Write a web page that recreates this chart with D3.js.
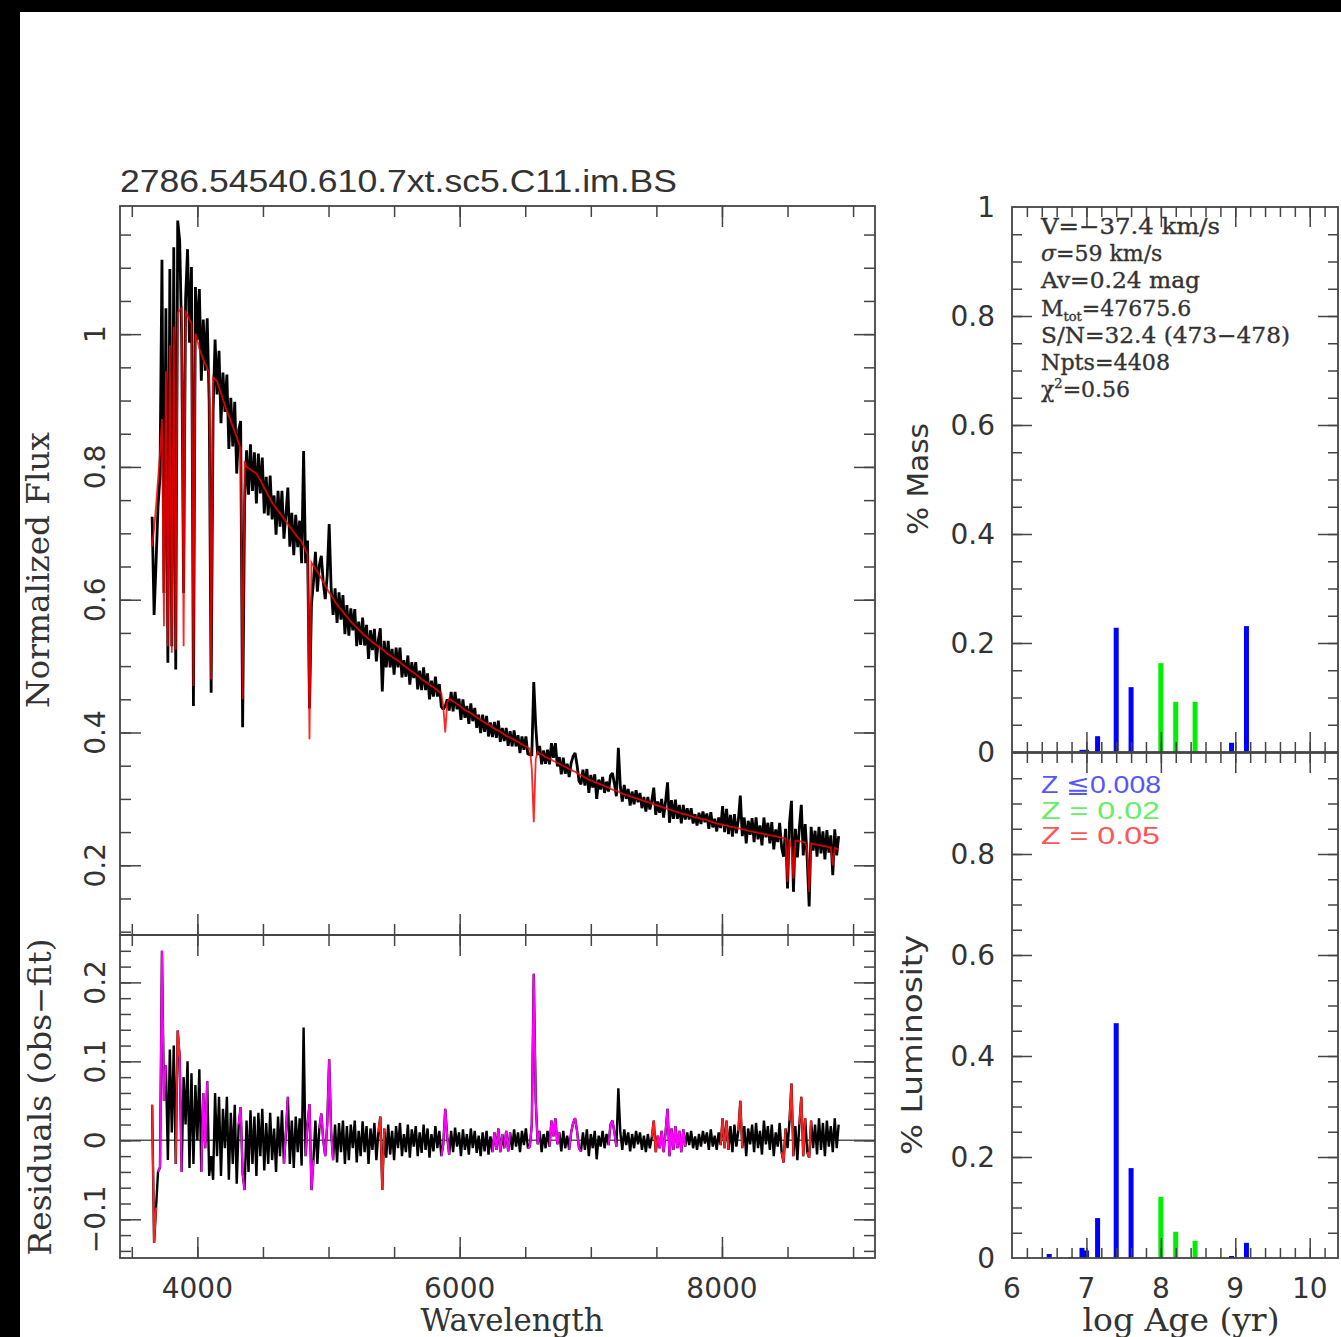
<!DOCTYPE html>
<html>
<head>
<meta charset="utf-8">
<script src="https://cdn.jsdelivr.net/npm/d3@7"></script>
<style>
  body { margin: 0; background: #fff; }
  svg { display: block; }
</style>
</head>
<body>
<div id="chart"></div>
<script>
// Spectrum is sampled on a regular grid: wavelength = waveStart + i * waveStep
const waveStart = 3655
const waveStep = 15
// Model fit (red), flux x 1000
const fitFlux = [
  680, 707, 741, 781, 820, 872, 560, 944, 530, 983,
  520, 1011, 525, 1032, 1036, 1039, 530, 1033, 1028, 1022,
  1016, 470, 1001, 991, 978, 970, 962, 955, 949, 942,
  480, 935, 932, 929, 920, 911, 902, 893, 884, 877,
  869, 861, 853, 845, 836, 827, 450, 809, 800, 798,
  796, 794, 792, 790, 785, 780, 774, 768, 763, 757,
  752, 746, 742, 738, 734, 730, 726, 722, 718, 714,
  710, 706, 702, 698, 694, 691, 687, 681, 675, 669,
  390, 656, 651, 647, 642, 637, 632, 626, 621, 616,
  611, 607, 602, 597, 593, 589, 585, 582, 578, 574,
  571, 567, 564, 561, 558, 555, 552, 549, 546, 544,
  541, 539, 536, 534, 532, 529, 527, 525, 523, 520,
  518, 516, 514, 512, 510, 508, 506, 503, 501, 499,
  496, 494, 492, 490, 488, 485, 483, 480, 478, 476,
  474, 472, 470, 468, 466, 464, 461, 459, 440, 400,
  445, 451, 449, 447, 445, 443, 441, 439, 436, 434,
  432, 431, 429, 427, 425, 423, 421, 419, 417, 415,
  413, 412, 410, 408, 406, 404, 403, 401, 399, 397,
  395, 394, 392, 391, 389, 387, 386, 384, 382, 380,
  379, 377, 376, 345, 265, 360, 371, 368, 367, 365,
  363, 362, 360, 359, 357, 356, 354, 353, 351, 350,
  348, 347, 345, 344, 342, 341, 339, 337, 336, 334,
  332, 331, 329, 328, 327, 325, 324, 323, 322, 321,
  319, 318, 317, 315, 314, 313, 312, 311, 309, 308,
  307, 306, 305, 304, 303, 302, 301, 300, 299, 298,
  297, 296, 295, 294, 293, 292, 291, 290, 289, 288,
  287, 286, 285, 284, 283, 282, 281, 280, 279, 278,
  277, 277, 276, 275, 274, 273, 272, 272, 271, 270,
  269, 269, 268, 267, 266, 265, 264, 263, 262, 262,
  261, 260, 260, 259, 258, 258, 257, 256, 256, 255,
  254, 254, 253, 252, 251, 251, 250, 250, 249, 248,
  248, 247, 247, 246, 245, 245, 244, 244, 243, 242,
  242, 241, 240, 175, 239, 225, 180, 237, 237, 236,
  236, 235, 234, 225, 160, 233, 232, 232, 231, 230,
  230, 229, 229, 228, 227, 227, 200, 226, 225, 224
]
// Residuals obs - fit, x 1000 (observed flux = fit + residual)
const residual = [
  45, -130, -85, -40, -34, 240, 50, 95, -25, 115,
  10, 120, -30, 139, 105, -40, 80, 20, 100, -35,
  85, -30, 70, 0, 90, -40, 60, -10, 75, -45,
  -20, -50, 60, -20, 55, -45, 40, -10, 55, -50,
  35, -30, 45, -55, 20, 42, -42, -63, 25, -40,
  38, -30, 30, -45, 35, -20, 40, -38, 22, -30,
  35, -25, 15, -40, 30, -20, 38, -30, 10, 55,
  -30, 25, -35, 30, -15, 28, -32, 143, -20, 20,
  46, -63, -25, 25, -30, 15, 34, 0, -20, 20,
  103, 10, -25, 20, -28, 22, -15, 25, -30, 18,
  -25, 20, -10, 25, -28, 12, -20, 24, -15, 18,
  -30, 15, -12, 22, -25, 10, 30, -63, 15, -22,
  20, -18, 12, -25, 18, -10, 22, -20, 8, -15,
  20, -22, 14, -8, 18, -20, 10, -16, 20, -12,
  15, -22, 8, -14, 18, -10, 12, -20, -5, 40,
  5, -18, 12, -15, 16, -8, 10, -20, 14, -12,
  8, -18, 15, -10, 12, -16, 6, -20, 10, -14,
  12, -18, 5, -15, 10, -12, 15, -15, 8, -10,
  12, -14, 10, -12, 14, -8, 10, -15, 12, -6,
  15, -10, -8, 20, 211, 50, -5, 12, -15, 8,
  -10, 12, -8, 25, 5, 28, -5, 10, -14, 12,
  -10, 6, -12, 10, 22, 28, 12, -10, -14, 10,
  -12, 14, -20, 8, -10, 12, -24, 6, -8, 12,
  -10, 8, -6, 20, 25, 10, -8, 66, 10, -12,
  14, -6, 10, -14, 8, -10, 12, -5, 10, -12,
  6, -15, 8, -10, 4, 25, -15, 6, -10, 12,
  -15, 10, 40, -20, 15, -12, 18, -10, 12, -15,
  14, -8, 10, -6, 12, -10, 5, -12, 8, -8,
  12, -4, 10, -12, 14, -8, 6, -12, 10, -6,
  28, -10, 25, -12, 18, -15, 20, -8, 12, 50,
  -10, 18, -20, 15, -5, 20, -15, 22, -10, 12,
  -18, 25, -5, 18, -12, 20, -20, 10, -8, 22,
  -15, -28, 15, -10, 25, 72, -20, 18, -25, 20,
  55, -20, 28, -15, -22, 25, -10, 20, -18, 28,
  -12, 22, -20, 25, -8, 18, -15, 28, -10, 20
]
// Masked wavelength windows (magenta) and clipped pixels (red) in the residuals
const maskedWindows = [
  [3710, 3750], [3860, 3870], [4040, 4065], [4325, 4350], [4670, 4680],
  [4835, 4875], [4940, 4965], [4985, 5025], [5870, 5910], [6260, 6315],
  [6350, 6375], [6530, 6600], [6695, 6750], [6845, 6915], [7145, 7185],
  [7520, 7710]
]
const clippedWaves = [3655, 3670, 3850, 5395, 5410, 7480, 7495, 8005, 8035, 8140,
  8470, 8530, 8605, 8620, 8665]

// Population vectors: log age, fraction, metallicity class
const massAge = [6.94, 7.0, 7.15, 7.4, 7.6, 8.0, 8.2, 8.46, 8.95, 9.15]
const massFrac = [0.004, 0.004, 0.029, 0.228, 0.119, 0.163, 0.092, 0.092, 0.017, 0.231]
const massZ = ['low', 'low', 'low', 'low', 'low', 'solar', 'solar', 'solar', 'low', 'low']
const lumAge = [6.5, 6.8, 6.94, 7.0, 7.15, 7.4, 7.6, 8.0, 8.2, 8.46, 8.95, 9.15]
const lumFrac = [0.008, 0.002, 0.02, 0.015, 0.079, 0.465, 0.178, 0.121, 0.052, 0.034, 0.004, 0.03]
const lumZ = ['low', 'low', 'low', 'low', 'low', 'low', 'low', 'solar', 'solar', 'solar', 'low', 'low']

const zColors = { low: '#0000ff', solar: '#00ee00', high: '#ff0000' }
const legendItems = [
  { label: 'Z \u22660.008', color: '#5555ff', len: 120 },
  { label: 'Z = 0.02', color: '#66ee66', len: 119 },
  { label: 'Z = 0.05', color: '#ff5555', len: 119 }
]
const fitInfo = ['V=\u221237.4 km/s', 'sigma', 'Av=0.24 mag', 'mtot', 'S/N=32.4 (473\u2212478)', 'Npts=4408', 'chi2']

const title = '2786.54540.610.7xt.sc5.C11.im.BS'

// ---------------------------------------------------------------------------
const width = 1341
const height = 1337
const svg = d3.select('#chart').append('svg')
  .attr('width', width)
  .attr('height', height)
svg.append('rect').attr('width', width).attr('height', height).attr('fill', '#fff')
// black border of the scanned page
svg.append('rect').attr('width', width).attr('height', 12).attr('fill', '#000')
svg.append('rect').attr('width', 20).attr('height', height).attr('fill', '#000')

// Scales
const xWave = d3.scaleLinear().domain([3410, 9167]).range([120, 875])
const yFlux = d3.scaleLinear().domain([0.095, 1.193]).range([935, 206])
const yRes = d3.scaleLinear().domain([-0.149, 0.26]).range([1258, 935])
const xAge = d3.scaleLinear().domain([6, 10.38]).range([1012, 1338])
const yMass = d3.scaleLinear().domain([0, 1]).range([752, 207])
const yLum = d3.scaleLinear().domain([0, 1]).range([1258, 753])

const ink = '#444'
const labelFont = 'DejaVu Sans, sans-serif'
const serifFont = 'DejaVu Serif, serif'

/**
 * Draws a boxed panel with inward minor/major ticks on all four sides.
 */
function frame (x, y, ticks, minorLen, majorLen) {
  const [x0, x1] = x.range()
  const [y0, y1] = y.range()
  const g = svg.append('g').attr('color', ink)
  const add = (axis, tf, values, len) => {
    g.append('g').attr('transform', tf)
      .call(axis.tickValues(values).tickSize(-len).tickSizeOuter(0).tickFormat(''))
      .call(a => a.select('.domain').remove())
      .selectAll('line').attr('stroke-width', 1.5)
  }
  add(d3.axisBottom(x), `translate(0,${y0})`, ticks.xMinor, minorLen)
  add(d3.axisBottom(x), `translate(0,${y0})`, ticks.xMajor, majorLen)
  add(d3.axisTop(x), `translate(0,${y1})`, ticks.xMinor, minorLen)
  add(d3.axisTop(x), `translate(0,${y1})`, ticks.xMajor, majorLen)
  add(d3.axisLeft(y), `translate(${x0},0)`, ticks.yMinor, minorLen)
  add(d3.axisLeft(y), `translate(${x0},0)`, ticks.yMajor, majorLen)
  add(d3.axisRight(y), `translate(${x1},0)`, ticks.yMinor, minorLen)
  add(d3.axisRight(y), `translate(${x1},0)`, ticks.yMajor, majorLen)
  g.append('rect')
    .attr('x', x0).attr('y', y1)
    .attr('width', x1 - x0).attr('height', y0 - y1)
    .attr('fill', 'none').attr('stroke', ink).attr('stroke-width', 1.8)
  return g
}

function clip (id, x, y) {
  const [x0, x1] = x.range()
  const [y0, y1] = y.range()
  svg.append('clipPath').attr('id', id).append('rect')
    .attr('x', x0).attr('y', y1).attr('width', x1 - x0).attr('height', y0 - y1)
  return `url(#${id})`
}

const waves = fitFlux.map((d, i) => waveStart + i * waveStep)
const obsFlux = fitFlux.map((d, i) => (d + residual[i]) / 1000)
const fit = fitFlux.map(d => d / 1000)
const res = residual.map(d => d / 1000)

// ---------------- Spectrum panel ----------------
const specClip = clip('spec-clip', xWave, yFlux)
const specLine = d3.line().x((d, i) => xWave(waves[i])).y(d => yFlux(d))
const specG = svg.append('g').attr('clip-path', specClip)
specG.append('path').datum(obsFlux)
  .attr('d', specLine)
  .attr('fill', 'none').attr('stroke', '#000').attr('stroke-width', 2.8)
  .attr('stroke-linejoin', 'bevel')
specG.append('path').datum(fit)
  .attr('d', specLine)
  .attr('fill', 'none').attr('stroke', '#ff0000').attr('stroke-width', 1.8).attr('stroke-opacity', 0.85)

const waveMinor = d3.range(3500, 9001, 500)
const waveMajor = [4000, 6000, 8000]
frame(xWave, yFlux, {
  xMinor: waveMinor,
  xMajor: waveMajor,
  yMinor: d3.range(0.1, 1.19, 0.05),
  yMajor: [0.2, 0.4, 0.6, 0.8, 1.0]
}, 11, 21)

// ---------------- Residual panel ----------------
const resClip = clip('res-clip', xWave, yRes)
const resLine = d3.line().x(d => xWave(waves[d])).y(d => yRes(res[d]))
const resG = svg.append('g').attr('clip-path', resClip)
resG.append('line')
  .attr('x1', 120).attr('x2', 875)
  .attr('y1', yRes(0)).attr('y2', yRes(0))
  .attr('stroke', '#555').attr('stroke-width', 1.5)
resG.append('path').datum(d3.range(res.length))
  .attr('d', resLine)
  .attr('fill', 'none').attr('stroke', '#000').attr('stroke-width', 2.4)
  .attr('stroke-linejoin', 'bevel')

// flagged runs: masked (magenta) and clipped (red)
function runs (flagged) {
  const out = []
  let cur = null
  flagged.forEach((f, i) => {
    if (f) {
      if (!cur) { cur = [i, i]; out.push(cur) } else cur[1] = i
    } else cur = null
  })
  return out
}
const isMasked = waves.map(w => maskedWindows.some(([a, b]) => w >= a && w <= b))
const isClipped = waves.map(w => clippedWaves.includes(w))
const drawRuns = (flags, color) => {
  runs(flags).forEach(([a, b]) => {
    const idx = d3.range(Math.max(0, a - 1), Math.min(res.length - 1, b + 1) + 1)
    resG.append('path').datum(idx)
      .attr('d', resLine)
      .attr('fill', 'none').attr('stroke', color).attr('stroke-width', 2)
      .attr('stroke-linejoin', 'bevel')
  })
}
drawRuns(isMasked, '#ff00ff')
drawRuns(isClipped, '#ff2020')

frame(xWave, yRes, {
  xMinor: waveMinor,
  xMajor: waveMajor,
  yMinor: d3.range(-0.14, 0.25, 0.02),
  yMajor: [-0.1, 0, 0.1, 0.2]
}, 11, 21)

// left-panel tick labels (rotated)
const rotLabel = (x, y, text, size, font) => svg.append('text')
  .attr('transform', `translate(${x},${y}) rotate(-90)`)
  .attr('text-anchor', 'middle')
  .attr('dominant-baseline', 'central')
  .attr('font-family', font)
  .attr('font-size', size)
  .attr('fill', '#333')
  .text(text)
;[0.2, 0.4, 0.6, 0.8, 1].forEach(v => rotLabel(95, yFlux(v), v === 1 ? '1' : v.toFixed(1), 28, labelFont))
;[-0.1, 0, 0.1, 0.2].forEach(v => rotLabel(95, yRes(v), v === 0 ? '0' : v.toFixed(1).replace('-', '\u2212'), 28, labelFont))
rotLabel(38, 570, 'Normalized Flux', 31, serifFont).attr('textLength', 276).attr('lengthAdjust', 'spacingAndGlyphs')
rotLabel(40, 1097, 'Residuals (obs\u2212fit)', 31, serifFont).attr('textLength', 317).attr('lengthAdjust', 'spacingAndGlyphs')

waveMajor.forEach(v => svg.append('text')
  .attr('x', xWave(v)).attr('y', 1288)
  .attr('text-anchor', 'middle').attr('dominant-baseline', 'central')
  .attr('font-family', labelFont).attr('font-size', 28).attr('fill', '#333')
  .text(v))
svg.append('text')
  .attr('x', 512).attr('y', 1320)
  .attr('text-anchor', 'middle').attr('dominant-baseline', 'central')
  .attr('font-family', serifFont).attr('font-size', 31).attr('fill', '#333')
  .attr('textLength', 183).attr('lengthAdjust', 'spacingAndGlyphs')
  .text('Wavelength')

svg.append('text')
  .attr('x', 120).attr('y', 192)
  .attr('font-family', 'Liberation Sans, Arial, sans-serif').attr('font-size', 32).attr('fill', '#333')
  .attr('textLength', 557).attr('lengthAdjust', 'spacingAndGlyphs')
  .text(title)

// ---------------- Population panels ----------------
const ageMinor = d3.range(6.2, 10.3, 0.2)
const ageMajor = [7, 8, 9, 10]
const fracMinor = d3.range(0.05, 1, 0.05)
const fracMajor = [0.2, 0.4, 0.6, 0.8]

function bars (ages, fracs, zs, y) {
  svg.append('g').selectAll('rect')
    .data(ages)
    .enter().append('rect')
    .attr('x', d => xAge(d) - 2.5)
    .attr('width', 5)
    .attr('y', (d, i) => y(fracs[i]))
    .attr('height', (d, i) => y(0) - y(fracs[i]))
    .attr('fill', (d, i) => zColors[zs[i]])
}
bars(massAge, massFrac, massZ, yMass)
bars(lumAge, lumFrac, lumZ, yLum)

frame(xAge, yMass, { xMinor: ageMinor, xMajor: ageMajor, yMinor: fracMinor, yMajor: fracMajor }, 10, 20)
frame(xAge, yLum, { xMinor: ageMinor, xMajor: ageMajor, yMinor: fracMinor, yMajor: fracMajor }, 10, 20)

const rightLabel = (y, text) => svg.append('text')
  .attr('x', 995).attr('y', y)
  .attr('text-anchor', 'end').attr('dominant-baseline', 'central')
  .attr('font-family', labelFont).attr('font-size', 28).attr('fill', '#333')
  .text(text)
;[0, 0.2, 0.4, 0.6, 0.8, 1].forEach(v => rightLabel(yMass(v), v === 0 || v === 1 ? String(v) : v.toFixed(1)))
;[0.2, 0.4, 0.6, 0.8].forEach(v => rightLabel(yLum(v), v.toFixed(1)))
rightLabel(yLum(0), '0')

;[6, 7, 8, 9, 10].forEach(v => svg.append('text')
  .attr('x', xAge(v)).attr('y', 1288)
  .attr('text-anchor', 'middle').attr('dominant-baseline', 'central')
  .attr('font-family', labelFont).attr('font-size', 28).attr('fill', '#333')
  .text(v))
svg.append('text')
  .attr('x', 1181).attr('y', 1320)
  .attr('text-anchor', 'middle').attr('dominant-baseline', 'central')
  .attr('font-family', serifFont).attr('font-size', 31).attr('fill', '#333')
  .attr('textLength', 197).attr('lengthAdjust', 'spacingAndGlyphs')
  .text('log Age (yr)')

rotLabel(918, 479, '% Mass', 28, labelFont).attr('textLength', 112).attr('lengthAdjust', 'spacingAndGlyphs')
rotLabel(912, 1045, '% Luminosity', 28, labelFont).attr('textLength', 220).attr('lengthAdjust', 'spacingAndGlyphs')

// fit summary
const infoG = svg.append('g')
  .attr('font-family', serifFont).attr('font-size', 22).attr('fill', '#333')
  .attr('stroke', '#333').attr('stroke-width', 0.35)
const infoLen = [179, 140, 159, 151, 249, 129, 90]
fitInfo.forEach((t, i) => {
  const txt = infoG.append('text').attr('x', 1041).attr('y', 234 + i * 27.2)
  if (t === 'sigma') {
    txt.append('tspan').attr('font-style', 'italic').text('\u03c3')
    txt.append('tspan').text('=59 km/s')
  } else if (t === 'mtot') {
    txt.append('tspan').text('M')
    txt.append('tspan').attr('font-size', 13).attr('dy', 5).text('tot')
    txt.append('tspan').attr('dy', -5).text('=47675.6')
  } else if (t === 'chi2') {
    txt.append('tspan').text('\u03c7')
    txt.append('tspan').attr('font-size', 13).attr('dy', -9).text('2')
    txt.append('tspan').attr('dy', 9).text('=0.56')
  } else {
    txt.text(t).attr('textLength', infoLen[i]).attr('lengthAdjust', 'spacingAndGlyphs')
  }
})

// metallicity legend
legendItems.forEach((d, i) => svg.append('text')
  .attr('x', 1041).attr('y', 793 + i * 25.5)
  .attr('font-family', 'Liberation Sans, Arial, sans-serif').attr('font-size', 24)
  .attr('fill', d.color)
  .attr('textLength', d.len).attr('lengthAdjust', 'spacingAndGlyphs')
  .text(d.label))
</script>
</body>
</html>
